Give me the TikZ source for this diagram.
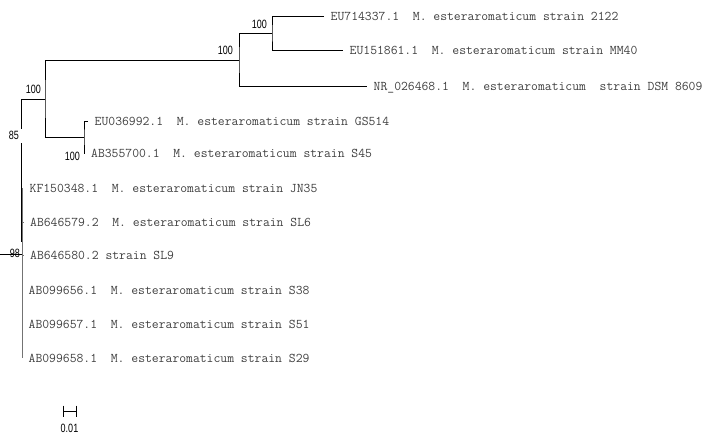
\documentclass[tikz,border=0pt]{standalone}
\usepackage{fontspec}
\newfontfamily\bootfont[FakeStretch=0.75]{Liberation Sans}
\frenchspacing
\begin{document}
\begin{tikzpicture}[x=1pt, y=-1pt,
    branch/.style={line width=0.9pt},
    taxon/.style={anchor=west, inner ysep=0pt, inner xsep=6.5pt, text height=8.2pt, text depth=0pt,
        font=\ttfamily\fontsize{13.3}{13.3}\selectfont, text=black!75},
    boot/.style={anchor=south east, inner sep=0pt, font=\bootfont\fontsize{12}{12}\selectfont}]
    \useasboundingbox (0,0) rectangle (708,434);

    % Internal nodes
    \coordinate (nA) at (272,33);
    \coordinate (nB) at (239,60);
    \coordinate (nC) at (84,137);
    \coordinate (nD) at (45,99);
    \coordinate (n85) at (21,99);
    \coordinate (n98) at (22,254);
    \coordinate (root) at (0,254);

    % Taxa of the upper clade
    \node[taxon] (t1) at (324,16) {EU714337.1\ \ M. esteraromaticum strain 2122};
    \node[taxon] (t2) at (343,50) {EU151861.1\ \ M. esteraromaticum strain MM40};
    \node[taxon] (t3) at (367,86) {NR\_026468.1\ \ M. esteraromaticum\ \ strain DSM 8609};
    \node[taxon] (t4) at (88,121) {EU036992.1\ \ M. esteraromaticum strain GS514};
    \node[taxon] (t5) at (84.5,153) {AB355700.1\ \ M. esteraromaticum strain S45};

    % Taxa of the lower clade
    \foreach \name/\x/\y/\txt in {
        t7/23/188/{KF150348.1\ \ M. esteraromaticum strain JN35},
        t8/23.5/222/{AB646579.2\ \ M. esteraromaticum strain SL6},
        t9/23.5/255/{AB646580.2 strain SL9},
        t10/22/290/{AB099656.1\ \ M. esteraromaticum strain S38},
        t11/22/324/{AB099657.1\ \ M. esteraromaticum strain S51},
        t12/22/358/{AB099658.1\ \ M. esteraromaticum strain S29}}
        \node[taxon] (\name) at (\x,\y) {\txt};

    % Bootstrap values
    \node[boot] (bA) at ([shift={(-5,-4)}]nA) {100};
    \node[boot] (bB) at ([shift={(-6,-5)}]nB) {100};
    \node[boot] (bD) at ([shift={(-4,-5)}]nD) {100};
    \node[boot] (bC) at ([shift={(-4,24)}]nC) {100};
    \node[boot] (b85) at ([shift={(-2,41)}]n85) {85};
    \node[boot] (b98) at ([shift={(-2,4)}]n98) {98};

    % Branches
    \draw[branch] (t1.west) -| (nA) |- (t2.west);
    \draw[branch] (nA) -| (nB) |- (t3.west);
    \draw[branch] (nB) -| (nD) |- (nC);
    \draw[branch] (t4.west) -| (nC) |- (t5.west);
    \draw[branch] (nD) -- (n85) -- ++(0,30);
    \draw[branch] (n85) ++(0,44) -- ++(0,99);
    \draw[branch, black!55] (t7.west -| n98) -- (t12.west -| n98);
    \foreach \name in {t7,t8,t9}
        \draw[branch, black!55] (\name.west -| n98) -- (\name.west);
    \draw[branch] (root) -- (n98);

    % Scale bar
    \coordinate (sb) at (63,411);
    \draw[line width=0.7pt] (sb) -- ++(13,0);
    \draw[line width=0.7pt] (sb) ++(0,-5.5) -- ++(0,11);
    \draw[line width=0.7pt] (sb) ++(13,-5.5) -- ++(0,11);
    \node[boot, anchor=north] (sbl) at ([shift={(6.5,13)}]sb) {0.01};
\end{tikzpicture}
\end{document}
